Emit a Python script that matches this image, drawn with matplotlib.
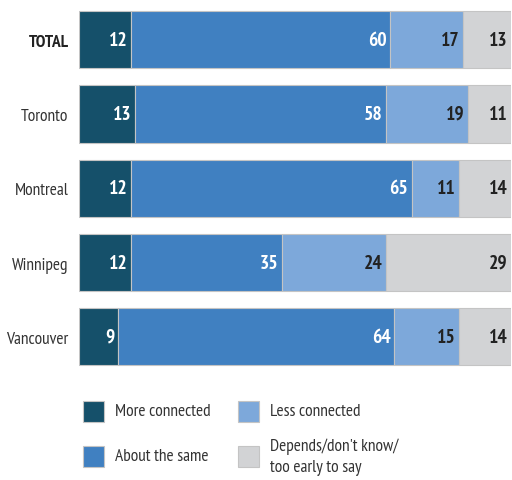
import matplotlib
matplotlib.use("Agg")
import matplotlib.pyplot as plt
from matplotlib.patches import Rectangle
from matplotlib import font_manager

installed = {f.name for f in font_manager.fontManager.ttflist}
wanted = ['PT Sans Narrow', 'Roboto Condensed', 'Fira Sans Condensed',
          'Archivo Narrow', 'Liberation Sans Narrow', 'DejaVu Sans']
plt.rcParams['font.family'] = [f for f in wanted if f in installed] or ['DejaVu Sans']

categories = ["TOTAL", "Toronto", "Montreal", "Winnipeg", "Vancouver"]
series_names = ["More connected", "About the same", "Less connected",
                "Depends/don't know/\ntoo early to say"]
more_connected = [12, 13, 12, 12, 9]
about_same = [60, 58, 65, 35, 64]
less_connected = [17, 19, 11, 24, 15]
depends = [13, 11, 14, 29, 14]

series = [more_connected, about_same, less_connected, depends]
colors = ["#15506a", "#4080c1", "#7da8da", "#d2d3d5"]
text_colors = ["white", "white", "#222222", "#222222"]

XMAX = 100  # bars are shown on a 0-100% scale; rounding overflow is cut

fig = plt.figure(figsize=(5.12, 4.81), dpi=100)
W, H = 512, 481
ax = fig.add_axes([79 / W, 1 - 375 / H, (511 - 79) / W, (375 - 3.5) / H])

y = list(range(len(categories)))
left = [0] * len(categories)
for vals, col, tcol in zip(series, colors, text_colors):
    widths = [min(v, XMAX - l) for v, l in zip(vals, left)]
    ax.barh(y, widths, left=left, height=0.77, color=col,
            edgecolor="#c4c4c4", linewidth=0.8)
    for yi, v, w, l in zip(y, vals, widths, left):
        ax.annotate(str(v), xy=(l + w, yi), xytext=(-2.5, 0),
                    textcoords="offset points", ha="right", va="center",
                    fontsize=14, fontweight="bold", color=tcol)
    left = [a + b for a, b in zip(left, widths)]

ax.set_xlim(0, XMAX)
ax.set_ylim(len(categories) - 0.5, -0.5)
ax.set_yticks(y)
ax.set_yticklabels(categories, fontsize=12.5, color="#333333")
for lbl in ax.get_yticklabels():
    if lbl.get_text() == "TOTAL":
        lbl.set_fontweight("bold")
        lbl.set_color("#222222")
ax.tick_params(axis="y", length=0, pad=7.5)
ax.set_xticks([])
for s in ax.spines.values():
    s.set_visible(False)

# legend
legend_pos = [(83, 402), (83, 447), (238, 402), (238, 447)]
for (lx, ly), name, col in zip(legend_pos, series_names, colors):
    fig.patches.append(Rectangle((lx / W, 1 - (ly + 21) / H), 21 / W, 21 / H,
                                 transform=fig.transFigure, facecolor=col,
                                 edgecolor="#c4c4c4", linewidth=0.8))
    fig.text((lx + 32) / W, 1 - (ly + 10.5) / H, name, ha="left", va="center",
             fontsize=12.5, color="#333333", linespacing=1.45)

fig.savefig("out.png", dpi=100)
